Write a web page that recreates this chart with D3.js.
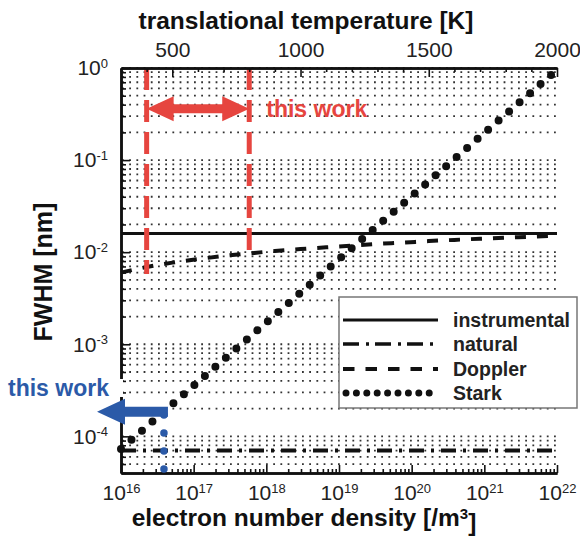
<!DOCTYPE html>
<html>
<head>
<meta charset="utf-8">
<script src="https://cdn.jsdelivr.net/npm/d3@7"></script>
<style>
  html, body { margin: 0; padding: 0; background: #fff; }
  svg { display: block; font-family: "Liberation Sans", Arial, sans-serif; }
</style>
</head>
<body>
<svg id="chart" width="580" height="537"></svg>
<script>
// ---- data ----
const densityDecades = [1e16, 1e17, 1e18, 1e19, 1e20, 1e21, 1e22];
const densityExponents = ["16", "17", "18", "19", "20", "21", "22"];
const tempTicks = [500, 1000, 1500, 2000];
const fwhmDecades = [1e-4, 1e-3, 1e-2, 1e-1, 1];
const fwhmExponents = ["-4", "-3", "-2", "-1", "0"];

// instrumental and natural widths are constant over density
const instrumentalFWHM = 0.016;
const naturalFWHM = 7.0e-5;

// Doppler width vs. translational temperature (top axis)
const dopplerTemp = [300, 400, 500, 600, 700, 800, 900, 1000, 1100, 1200, 1300, 1400, 1500, 1600, 1700, 1800, 1900, 2000];
const dopplerFWHM = [6.0e-3, 6.9e-3, 7.7e-3, 8.4e-3, 9.1e-3, 9.7e-3, 1.03e-2, 1.08e-2, 1.13e-2, 1.18e-2, 1.23e-2, 1.27e-2, 1.32e-2, 1.36e-2, 1.40e-2, 1.44e-2, 1.47e-2, 1.51e-2];

// Stark width vs. electron number density (bottom axis)
const starkDensity = [1e16, 1e17, 1e18, 1e19, 1e20, 1e21, 1e22];
const starkFWHM = [7.3e-5, 3.55e-4, 1.72e-3, 8.4e-3, 0.0406, 0.197, 0.955];

// measured ranges ("this work")
const workTemp = [400, 800];
const workTempFloor = [5.8e-3, 9.0e-3];   // lower end of the red markers
const workTempArrowLevel = 0.36;
const workDensity = 3.9e16;
const workStarkFWHM = 1.85e-4;

const legendNames = ["instrumental", "natural", "Doppler", "Stark"];

// ---- layout ----
const svg = d3.select("#chart");
const L = 121, R = 557, T = 68, B = 473;

const x = d3.scaleLog().domain([1e16, 1e22]).range([L, R]);
const tx = d3.scaleLinear().domain([300, 2000]).range([L, R]);
const y = d3.scaleLog().domain([4e-5, 1]).range([B, T]);

const black = "#111";
const red = "#e6453f";
const blue = "#2b5aa8";

// ---- dotted horizontal grid at every log tick ----
const gridVals = y.ticks().filter(v => v > 4.01e-5);
svg.append("g")
  .selectAll("line").data(gridVals).join("line")
  .attr("x1", L + 1).attr("x2", R)
  .attr("y1", d => y(d)).attr("y2", d => y(d))
  .attr("stroke", "#333").attr("stroke-width", 1.8)
  .attr("stroke-dasharray", "1.8 5.4");

// ---- series ----
const plot = svg.append("g");

// instrumental (solid)
plot.append("line")
  .attr("x1", x(densityDecades[0])).attr("x2", x(densityDecades[6]))
  .attr("y1", y(instrumentalFWHM)).attr("y2", y(instrumentalFWHM))
  .attr("stroke", black).attr("stroke-width", 3);

// natural (dash-dot)
plot.append("line")
  .attr("x1", x(densityDecades[0])).attr("x2", x(densityDecades[6]))
  .attr("y1", y(naturalFWHM)).attr("y2", y(naturalFWHM))
  .attr("stroke", black).attr("stroke-width", 4)
  .attr("stroke-dasharray", "15 7 3 7");

// Doppler (dashed, against temperature)
const dopplerLine = d3.line().x(d => tx(d[0])).y(d => y(d[1])).curve(d3.curveMonotoneX);
plot.append("path")
  .datum(dopplerTemp.map((t, i) => [t, dopplerFWHM[i]]))
  .attr("d", dopplerLine)
  .attr("fill", "none").attr("stroke", black).attr("stroke-width", 4)
  .attr("stroke-dasharray", "11 11");

// Stark (round dots)
const starkLine = d3.line().x(d => x(d[0])).y(d => y(d[1]));
plot.append("path")
  .datum(starkDensity.map((n, i) => [n, starkFWHM[i]]))
  .attr("d", starkLine)
  .attr("fill", "none").attr("stroke", black).attr("stroke-width", 8)
  .attr("stroke-linecap", "round")
  .attr("stroke-dasharray", "0 13.9");

// ---- red "this work" temperature range ----
const redG = svg.append("g");
workTemp.forEach((t, i) => {
  redG.append("line")
    .attr("x1", tx(t)).attr("x2", tx(t))
    .attr("y1", T).attr("y2", y(workTempFloor[i]))
    .attr("stroke", red).attr("stroke-width", 5)
    .attr("stroke-dasharray", "22 10");
});
{
  const x1 = tx(workTemp[0]), x2 = tx(workTemp[1]), yc = y(workTempArrowLevel);
  const hl = 27, hh = 12.5, sh = 4.5;
  const pts = [
    [x1, yc], [x1 + hl, yc - hh], [x1 + hl, yc - sh], [x2 - hl, yc - sh], [x2 - hl, yc - hh],
    [x2, yc], [x2 - hl, yc + hh], [x2 - hl, yc + sh], [x1 + hl, yc + sh], [x1 + hl, yc + hh]
  ];
  redG.append("polygon").attr("points", pts.map(p => p.join(",")).join(" ")).attr("fill", red);
  redG.append("text")
    .attr("x", x2 + 17).attr("y", yc + 8)
    .attr("fill", red).attr("font-size", 23).attr("font-weight", "bold")
    .text("this work");
}

// ---- axes ----
function styleAxis(g) {
  g.select(".domain").attr("stroke", black).attr("stroke-width", 2.5);
  g.selectAll(".tick line").attr("stroke", black).attr("stroke-width", 1.6);
}
function supLabels(g, exps) {
  g.selectAll(".tick text").each(function(d, i) {
    const s = d3.select(this);
    s.text("10");
    s.append("tspan").attr("dy", "-0.55em").attr("font-size", 13).text(exps[i]);
  });
}

// bottom: minor then major
const xMinor = x.ticks().filter(v => densityDecades.indexOf(v) < 0);
svg.append("g").attr("transform", `translate(0,${B})`)
  .call(d3.axisBottom(x).tickValues(xMinor).tickSize(-4).tickSizeOuter(0).tickFormat(""))
  .call(styleAxis);
const xAxisG = svg.append("g").attr("transform", `translate(0,${B})`)
  .call(d3.axisBottom(x).tickValues(densityDecades).tickSize(-8).tickSizeOuter(0).tickPadding(12))
  .call(styleAxis);
xAxisG.selectAll(".tick text").attr("font-size", 21).attr("fill", "#222").attr("font-family", "Liberation Sans, Arial, sans-serif");
supLabels(xAxisG, densityExponents);

// left
const yMinor = y.ticks().filter(v => fwhmDecades.indexOf(v) < 0);
svg.append("g").attr("transform", `translate(${L},0)`)
  .call(d3.axisLeft(y).tickValues(yMinor).tickSize(-5).tickSizeOuter(0).tickFormat(""))
  .call(styleAxis);
const yAxisG = svg.append("g").attr("transform", `translate(${L},0)`)
  .call(d3.axisLeft(y).tickValues(fwhmDecades).tickSize(-9).tickSizeOuter(0).tickPadding(13))
  .call(styleAxis);
yAxisG.selectAll(".tick text").attr("font-size", 21).attr("fill", "#222").attr("font-family", "Liberation Sans, Arial, sans-serif");
supLabels(yAxisG, fwhmExponents);

// top (temperature)
const tMinor = d3.range(300, 2001, 100).filter(v => tempTicks.indexOf(v) < 0);
svg.append("g").attr("transform", `translate(0,${T})`)
  .call(d3.axisTop(tx).tickValues(tMinor).tickSize(-4).tickSizeOuter(0).tickFormat(""))
  .call(styleAxis);
const tAxisG = svg.append("g").attr("transform", `translate(0,${T})`)
  .call(d3.axisTop(tx).tickValues(tempTicks).tickSize(-9).tickSizeOuter(0).tickPadding(11).tickFormat(d3.format("d")))
  .call(styleAxis);
tAxisG.selectAll(".tick text").attr("font-size", 21).attr("fill", "#222").attr("font-family", "Liberation Sans, Arial, sans-serif");

// axis titles
svg.append("text").attr("x", 306).attr("y", 29)
  .attr("text-anchor", "middle").attr("font-size", 24.5).attr("font-weight", "bold").attr("fill", "#111")
  .text("translational temperature [K]");
const xt = svg.append("text").attr("x", 304).attr("y", 526)
  .attr("text-anchor", "middle").attr("font-size", 24.5).attr("font-weight", "bold").attr("fill", "#111");
xt.append("tspan").text("electron number density [/m");
xt.append("tspan").attr("dy", "-0.5em").attr("font-size", 15).text("3");
xt.append("tspan").attr("dy", "0.5em").text("]");
svg.append("text")
  .attr("transform", `translate(52,272) rotate(-90)`)
  .attr("text-anchor", "middle").attr("font-size", 25).attr("font-weight", "bold").attr("fill", "#111")
  .text("FWHM [nm]");

// ---- legend ----
const lg = svg.append("g").attr("transform", "translate(339,297)");
lg.append("rect").attr("width", 238).attr("height", 111)
  .attr("fill", "#fff").attr("stroke", "#777").attr("stroke-width", 1.5);
const legendRows = [23, 47, 72, 96];
const legendStyles = [
  { w: 3, dash: null, cap: "butt" },
  { w: 3.5, dash: "16 7 3 6", cap: "butt" },
  { w: 3.8, dash: "11.5 11", cap: "butt" },
  { w: 7, dash: "0 10.4", cap: "round" }
];
legendNames.forEach((name, i) => {
  const st = legendStyles[i];
  const ln = lg.append("line")
    .attr("x1", i === 3 ? 7 : 4).attr("x2", 99)
    .attr("y1", legendRows[i]).attr("y2", legendRows[i])
    .attr("stroke", black).attr("stroke-width", st.w).attr("stroke-linecap", st.cap);
  if (st.dash) ln.attr("stroke-dasharray", st.dash);
  lg.append("text").attr("x", 114).attr("y", legendRows[i] + 7)
    .attr("font-size", 19.5).attr("font-weight", "bold").attr("fill", "#222")
    .text(name);
});

// ---- blue "this work" density marker ----
const blueG = svg.append("g");
blueG.append("line")
  .attr("x1", x(workDensity)).attr("x2", x(workDensity))
  .attr("y1", B - 4).attr("y2", y(workStarkFWHM))
  .attr("stroke", blue).attr("stroke-width", 7.5)
  .attr("stroke-linecap", "round").attr("stroke-dasharray", "0 18");
{
  const xTail = x(workDensity) + 4, xTip = L - 24, yc = y(workStarkFWHM);
  const hl = 28, hh = 13, sh = 5;
  const pts = [
    [xTip, yc], [xTip + hl, yc - hh], [xTip + hl, yc - sh], [xTail, yc - sh],
    [xTail, yc + sh], [xTip + hl, yc + sh], [xTip + hl, yc + hh]
  ];
  blueG.append("polygon").attr("points", pts.map(p => p.join(",")).join(" ")).attr("fill", blue);
}
blueG.append("rect").attr("x", 4).attr("y", 379).attr("width", L + 2 - 4).attr("height", 18).attr("fill", "#fff");
blueG.append("text").attr("x", 8).attr("y", 396)
  .attr("fill", blue).attr("font-size", 23).attr("font-weight", "bold")
  .text("this work");
</script>
</body>
</html>
